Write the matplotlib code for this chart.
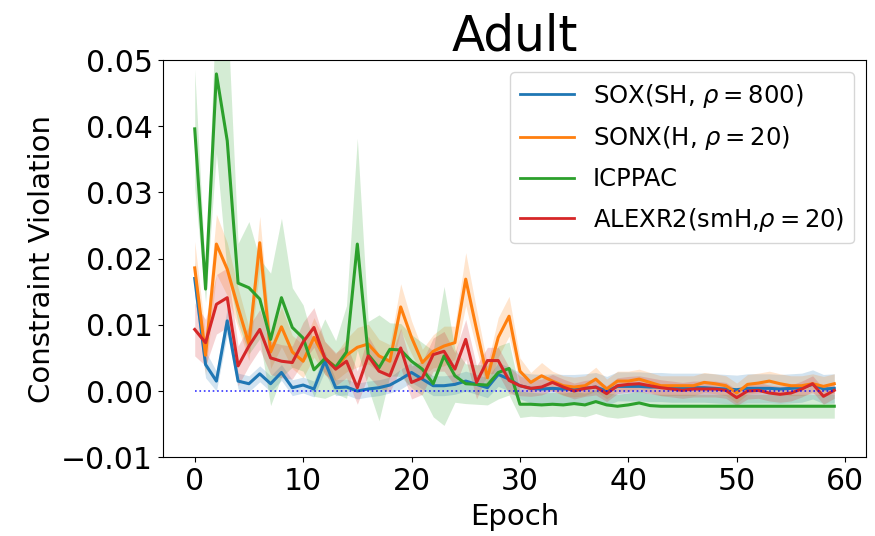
import numpy as np
import matplotlib
matplotlib.use("Agg")
import matplotlib.pyplot as plt

epochs = np.arange(60)

labels = ["SOX(SH, $\\rho=800$)", "SONX(H, $\\rho=20$)", "ICPPAC", "ALEXR2(smH,$\\rho=20$)"]
colors = ["#1f77b4", "#ff7f0e", "#2ca02c", "#d62728"]

sox = [0.0170, 0.0040, 0.0015, 0.0106, 0.0015, 0.0011, 0.0026, 0.0011, 0.0028, 0.0005,
       0.0009, 0.0003, 0.0045, 0.0005, 0.0006, 0.0000, 0.0003, 0.0005, 0.0009, 0.0018,
       0.0028, 0.0018, 0.0008, 0.0008, 0.0010, 0.0015, 0.0010, 0.0005, 0.0025, 0.0018,
       0.0008, 0.0004, 0.0003, 0.0004, 0.0003, 0.0003, 0.0004, 0.0006, 0.0000, 0.0007,
       0.0007, 0.0007, 0.0006, 0.0006, 0.0005, 0.0005, 0.0005, 0.0005, 0.0004, 0.0003,
       0.0002, 0.0004, 0.0004, 0.0004, 0.0003, 0.0004, 0.0005, 0.0010, 0.0003, 0.0004]
sox_sd = [0.0025, 0.0020, 0.0015, 0.0020, 0.0012, 0.0012, 0.0012, 0.0012, 0.0012, 0.0012,
          0.0012, 0.0012, 0.0015, 0.0012, 0.0012, 0.0012, 0.0012, 0.0012, 0.0012, 0.0015,
          0.0015, 0.0015, 0.0015, 0.0015, 0.0015, 0.0015, 0.0015, 0.0015, 0.0018, 0.0018,
          0.0020, 0.0022, 0.0022, 0.0022, 0.0022, 0.0022, 0.0022, 0.0022, 0.0022, 0.0022,
          0.0022, 0.0022, 0.0022, 0.0022, 0.0022, 0.0022, 0.0022, 0.0022, 0.0022, 0.0022,
          0.0022, 0.0022, 0.0022, 0.0022, 0.0022, 0.0022, 0.0022, 0.0022, 0.0022, 0.0022]

sonx = [0.0186, 0.0054, 0.0222, 0.0184, 0.0126, 0.0071, 0.0224, 0.0059, 0.0097, 0.0059,
        0.0045, 0.0081, 0.0050, 0.0036, 0.0054, 0.0066, 0.0071, 0.0053, 0.0045, 0.0127,
        0.0081, 0.0043, 0.0060, 0.0068, 0.0073, 0.0169, 0.0093, 0.0020, 0.0081, 0.0113,
        0.0030, 0.0013, 0.0023, 0.0015, 0.0008, 0.0006, 0.0008, 0.0018, 0.0003, 0.0015,
        0.0015, 0.0018, 0.0013, 0.0008, 0.0008, 0.0008, 0.0008, 0.0013, 0.0011, 0.0008,
        -0.0003, 0.0010, 0.0012, 0.0015, 0.0011, 0.0008, 0.0008, 0.0011, 0.0007, 0.0011]
sonx_sd = [0.0040, 0.0030, 0.0045, 0.0040, 0.0030, 0.0025, 0.0040, 0.0025, 0.0030, 0.0025,
           0.0025, 0.0030, 0.0025, 0.0020, 0.0025, 0.0030, 0.0030, 0.0025, 0.0025, 0.0035,
           0.0025, 0.0020, 0.0025, 0.0030, 0.0025, 0.0040, 0.0030, 0.0020, 0.0030, 0.0030,
           0.0020, 0.0015, 0.0020, 0.0015, 0.0015, 0.0015, 0.0015, 0.0018, 0.0015, 0.0015,
           0.0015, 0.0015, 0.0015, 0.0015, 0.0015, 0.0015, 0.0015, 0.0015, 0.0015, 0.0015,
           0.0015, 0.0015, 0.0015, 0.0015, 0.0015, 0.0015, 0.0015, 0.0015, 0.0015, 0.0015]

icppac = [0.0396, 0.0154, 0.0479, 0.0378, 0.0163, 0.0156, 0.0139, 0.0078, 0.0141, 0.0096,
          0.0080, 0.0032, 0.0049, 0.0036, 0.0059, 0.0222, 0.0055, 0.0035, 0.0063, 0.0062,
          0.0045, 0.0033, 0.0011, 0.0053, 0.0023, 0.0011, 0.0010, 0.0009, 0.0028, 0.0034,
          -0.0020, -0.0020, -0.0021, -0.0020, -0.0021, -0.0019, -0.0021, -0.0016, -0.0021, -0.0023,
          -0.0021, -0.0018, -0.0022, -0.0023, -0.0023, -0.0023, -0.0023, -0.0023, -0.0023, -0.0023,
          -0.0023, -0.0023, -0.0023, -0.0023, -0.0023, -0.0023, -0.0023, -0.0023, -0.0023, -0.0023]
icppac_sd = [0.0090, 0.0020, 0.0120, 0.0200, 0.0060, 0.0100, 0.0060, 0.0100, 0.0120, 0.0060,
             0.0050, 0.0040, 0.0060, 0.0040, 0.0070, 0.0160, 0.0050, 0.0080, 0.0040, 0.0040,
             0.0040, 0.0040, 0.0050, 0.0105, 0.0040, 0.0030, 0.0030, 0.0030, 0.0040, 0.0040,
             0.0020, 0.0018, 0.0018, 0.0018, 0.0018, 0.0018, 0.0018, 0.0018, 0.0018, 0.0018,
             0.0018, 0.0018, 0.0018, 0.0018, 0.0018, 0.0018, 0.0018, 0.0018, 0.0018, 0.0018,
             0.0018, 0.0018, 0.0018, 0.0018, 0.0018, 0.0018, 0.0018, 0.0018, 0.0018, 0.0018]

alexr2 = [0.0093, 0.0073, 0.0131, 0.0141, 0.0038, 0.0068, 0.0093, 0.0050, 0.0045, 0.0043,
          0.0074, 0.0096, 0.0050, 0.0033, 0.0045, 0.0005, 0.0053, 0.0030, 0.0023, 0.0065,
          0.0013, 0.0020, 0.0055, 0.0060, 0.0033, 0.0078, 0.0013, 0.0046, 0.0046, 0.0016,
          0.0008, 0.0004, 0.0006, 0.0013, 0.0006, 0.0000, 0.0004, 0.0006, -0.0004, 0.0008,
          0.0010, 0.0011, 0.0008, 0.0005, 0.0003, 0.0001, 0.0003, 0.0003, 0.0003, 0.0001,
          -0.0010, 0.0000, 0.0001, -0.0003, -0.0005, -0.0003, 0.0003, 0.0011, -0.0008, 0.0001]
alexr2_sd = [0.0040, 0.0035, 0.0045, 0.0045, 0.0030, 0.0030, 0.0030, 0.0025, 0.0025, 0.0025,
             0.0030, 0.0030, 0.0025, 0.0025, 0.0025, 0.0025, 0.0030, 0.0025, 0.0025, 0.0030,
             0.0025, 0.0025, 0.0025, 0.0030, 0.0025, 0.0030, 0.0025, 0.0020, 0.0020, 0.0020,
             0.0015, 0.0012, 0.0012, 0.0012, 0.0012, 0.0012, 0.0012, 0.0012, 0.0012, 0.0012,
             0.0012, 0.0012, 0.0012, 0.0012, 0.0012, 0.0012, 0.0012, 0.0012, 0.0012, 0.0012,
             0.0012, 0.0012, 0.0012, 0.0012, 0.0012, 0.0012, 0.0012, 0.0012, 0.0012, 0.0012]

means = [sox, sonx, icppac, alexr2]
sds = [sox_sd, sonx_sd, icppac_sd, alexr2_sd]

fig = plt.figure(figsize=(8.75, 5.36), dpi=100)
ax = fig.add_axes([0.186, 0.147, 0.804, 0.741])

for m, s, c, lab in zip(means, sds, colors, labels):
    m = np.array(m)
    s = np.array(s)
    ax.fill_between(epochs, m - s, m + s, color=c, alpha=0.2, linewidth=0)
    ax.plot(epochs, m, color=c, lw=2.2, label=lab)

ax.plot(epochs, np.zeros_like(epochs, dtype=float), color="b", ls=":", lw=1.2, alpha=0.8)

ax.set_ylim(-0.01, 0.05)
ax.set_yticks([-0.01, 0.0, 0.01, 0.02, 0.03, 0.04, 0.05])
ax.set_yticklabels(["\u22120.01", "0.00", "0.01", "0.02", "0.03", "0.04", "0.05"])
ax.set_xticks([0, 10, 20, 30, 40, 50, 60])
ax.tick_params(labelsize=21.5)
ax.set_xlabel("Epoch", fontsize=21, labelpad=5)
ax.set_ylabel("Constraint Violation", fontsize=21)
ax.set_title("Adult", fontsize=35, pad=7)

leg = ax.legend(loc="upper right", fontsize=17.5, handlelength=2.2, labelspacing=0.6)
for line in leg.get_lines():
    line.set_linewidth(2.0)

fig.savefig("out.png", dpi=100)
